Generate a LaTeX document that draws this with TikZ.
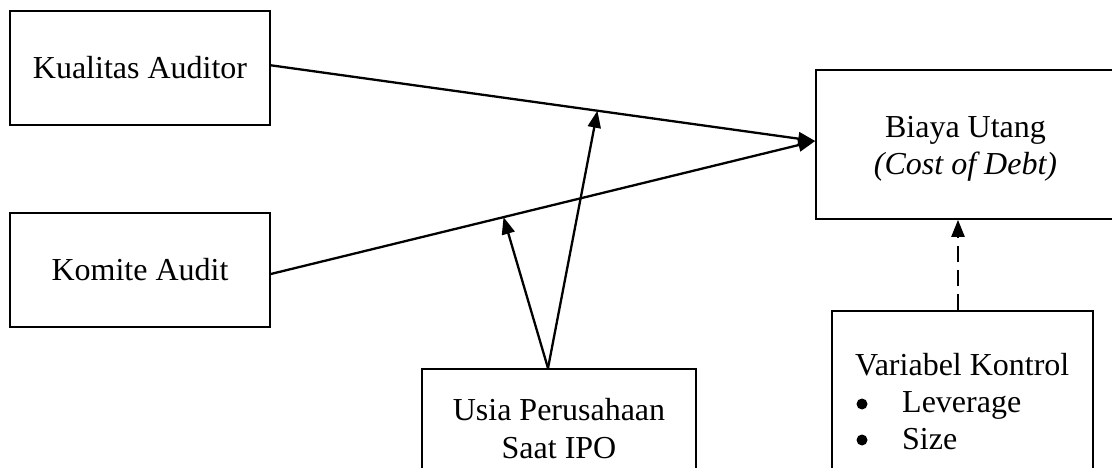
\documentclass[tikz,border=0pt]{standalone}
\usepackage{fontspec}
\setmainfont{Liberation Serif}
\usetikzlibrary{arrows.meta}
\begin{document}
\begin{tikzpicture}[x=1pt,y=-1pt,
  box/.style={draw=black,line width=1.6pt,inner sep=0pt,minimum width=#1},
  txt/.style={inner sep=0pt,font=\fontsize{32}{38}\selectfont},
  dot/.style={circle,fill=black,inner sep=0pt,minimum size=11pt},
  conn/.style={line width=2.3pt,-{Triangle[length=17pt,width=13pt]}},
  dconn/.style={conn,dash pattern=on 16pt off 8pt}]
\useasboundingbox (0,0) rectangle (1112,468);
\clip (0,0) rectangle (1112,468);
% boxes
\node[box=260pt,minimum height=114pt] (ka) at (140,68) {};
\node[box=260pt,minimum height=114pt] (km) at (140,270) {};
\node[box=300pt,minimum height=149pt] (bu) at (966,144.5) {};
\node[box=274pt,minimum height=140pt] (us) at (559,439) {};
\node[box=261pt,minimum height=190pt] (vk) at (962.5,406) {};
% texts
\node[txt,anchor=base] (tka) at (140,79) {Kualitas Auditor};
\node[txt,anchor=base] (tkm) at (140,280) {Komite Audit};
\node[txt,anchor=base] (tbu1) at (965.5,138) {Biaya Utang};
\node[txt,anchor=base] (tbu2) at (965.5,175) {\itshape (Cost of Debt)};
\node[txt,anchor=base] (tus1) at (559,420) {Usia Perusahaan};
\node[txt,anchor=base] (tus2) at (559,458) {Saat IPO};
\node[txt,anchor=base west] (tvk) at (855,375) {Variabel Kontrol};
\node[dot] (b1) at (862,404) {};
\node[dot] (b2) at (862,440) {};
\node[txt,anchor=base west] (tl) at (902,412) {Leverage};
\node[txt,anchor=base west] (ts) at (902,449) {Size};
% connectors
\coordinate (kaE) at ([yshift=2.7pt]ka.east);
\coordinate (kmE) at ([yshift=-4pt]km.east);
\coordinate (buW) at ([yshift=3.5pt]bu.west);
\draw[conn] (kaE) -- (buW) coordinate[pos=0.6] (m1);
\draw[conn] (kmE) -- (buW) coordinate[pos=0.4275] (m2);
\coordinate (usN) at ([xshift=-11pt]us.north);
\draw[conn] (usN) -- (m1);
\draw[conn] (usN) -- (m2);
\coordinate (vkN) at ([xshift=-4.5pt]vk.north);
\draw[dconn] (vkN) -- (vkN |- bu.south);
\end{tikzpicture}
\end{document}
